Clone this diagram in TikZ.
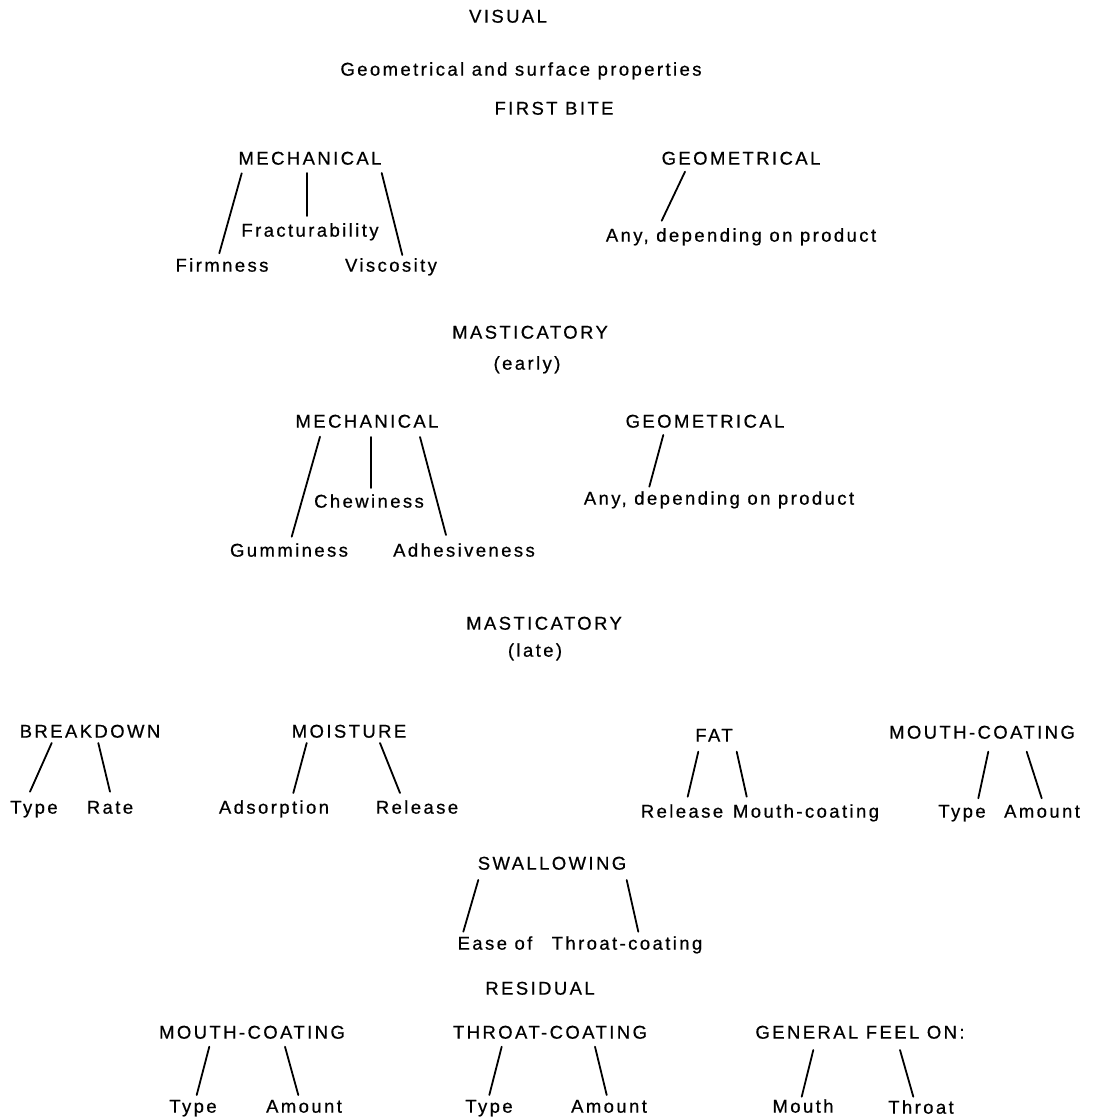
\documentclass[tikz,border=0pt]{standalone}
\usepackage{fontspec}
\usetikzlibrary{calc}
\newfontfamily\labfont{Liberation Sans}[LetterSpace=13,FakeBold=0.6]
\begin{document}
\begin{tikzpicture}[x=1pt,y=-1pt,
  lab/.style={inner sep=0pt, text height=13.3pt, text depth=0pt, font=\labfont\fontsize{18.5}{20}\selectfont},
  conn/.style={line width=1.8pt, line cap=round}]
\useasboundingbox (0,0) rectangle (1092,1118);
% headings
\node[lab] (vis) at (508,16) {VISUAL};
\node[lab] (geo) at (521,69) {Geometrical and surface properties};
\node[lab] (fb) at (554,108) {FIRST BITE};
% first bite
\node[lab] (mA) at (310,158) {MECHANICAL};
\node[lab] (frac) at (310,230) {Fracturability};
\node[lab] (firm) at (222,265) {Firmness};
\node[lab] (visc) at (391,265) {Viscosity};
\node[lab] (gA) at (741,158) {GEOMETRICAL};
\node[lab] (anyA) at (741,235) {Any, depending on product};
% masticatory early
\node[lab] (mastE) at (530,332) {MASTICATORY};
\node[lab] (early) at (527,363) {(early)};
\node[lab] (mB) at (367,421) {MECHANICAL};
\node[lab] (chew) at (369,501) {Chewiness};
\node[lab] (gum) at (289,550) {Gumminess};
\node[lab] (adh) at (464,550) {Adhesiveness};
\node[lab] (gB) at (705,421) {GEOMETRICAL};
\node[lab] (anyB) at (719,498) {Any, depending on product};
% masticatory late
\node[lab] (mastL) at (544,623) {MASTICATORY};
\node[lab] (late) at (535,650) {(late)};
\node[lab] (brk) at (90,731) {BREAKDOWN};
\node[lab] (typeA) at (34,807) {Type};
\node[lab] (rate) at (110,807) {Rate};
\node[lab] (moist) at (349,731) {MOISTURE};
\node[lab] (ads) at (274,807) {Adsorption};
\node[lab] (relA) at (417,807) {Release};
\node[lab] (fat) at (714,735) {FAT};
\node[lab] (relB) at (682,811) {Release};
\node[lab] (mcoat) at (806,811) {Mouth-coating};
\node[lab] (mcA) at (982,732) {MOUTH-COATING};
\node[lab] (typeB) at (962,811) {Type};
\node[lab] (amtA) at (1042,811) {Amount};
% swallowing
\node[lab] (swal) at (552,863) {SWALLOWING};
\node[lab] (ease) at (495,943) {Ease of};
\node[lab] (thr) at (627,943) {Throat-coating};
% residual
\node[lab] (res) at (540,988) {RESIDUAL};
\node[lab] (mcB) at (252,1032) {MOUTH-COATING};
\node[lab] (typeC) at (193,1106) {Type};
\node[lab] (amtB) at (304,1106) {Amount};
\node[lab] (tcB) at (550,1032) {THROAT-COATING};
\node[lab] (typeD) at (489,1106) {Type};
\node[lab] (amtC) at (609,1106) {Amount};
\node[lab] (gen) at (860,1032) {GENERAL FEEL ON:};
\node[lab] (mouth) at (803,1106) {Mouth};
\node[lab] (throat) at (921,1107) {Throat};
% connectors
\draw[conn] ($(mA.center)+(-68.3,15.3)$) -- ($(firm.center)+(-2.7,-11.7)$);
\draw[conn] ($(mA.center)+(-3.3,15)$) -- ($(frac.center)+(-3.3,-14)$);
\draw[conn] ($(mA.center)+(71.7,15)$) -- ($(visc.center)+(11.3,-10)$);
\draw[conn] ($(gA.center)+(-56,13.7)$) -- ($(anyA.center)+(-79.3,-14.3)$);
\draw[conn] ($(mB.center)+(-47,15.7)$) -- ($(gum.center)+(2.7,-13.3)$);
\draw[conn] ($(mB.center)+(3.7,16)$) -- ($(chew.center)+(1.7,-13)$);
\draw[conn] ($(mB.center)+(53,16)$) -- ($(adh.center)+(-18,-15)$);
\draw[conn] ($(gB.center)+(-41.7,14)$) -- ($(anyB.center)+(-69.7,-11.3)$);
\draw[conn] ($(brk.center)+(-38.3,12)$) -- ($(typeA.center)+(-4,-15.3)$);
\draw[conn] ($(brk.center)+(8.3,12)$) -- ($(rate.center)+(0,-15.3)$);
\draw[conn] ($(moist.center)+(-42.3,12)$) -- ($(ads.center)+(19.3,-14)$);
\draw[conn] ($(moist.center)+(31,12)$) -- ($(relA.center)+(-17,-14)$);
\draw[conn] ($(fat.center)+(-15.7,16.7)$) -- ($(relB.center)+(5.7,-14.3)$);
\draw[conn] ($(fat.center)+(22.7,16.7)$) -- ($(mcoat.center)+(-59.3,-14.3)$);
\draw[conn] ($(mcA.center)+(6.3,19.7)$) -- ($(typeB.center)+(16.3,-12.7)$);
\draw[conn] ($(mcA.center)+(44.7,19.7)$) -- ($(amtA.center)+(-0.3,-12.7)$);
\draw[conn] ($(swal.center)+(-73.7,17)$) -- ($(ease.center)+(-31.7,-11.3)$);
\draw[conn] ($(swal.center)+(74.7,17)$) -- ($(thr.center)+(11.3,-11.3)$);
\draw[conn] ($(mcB.center)+(-42.7,14.7)$) -- ($(typeC.center)+(3.7,-11)$);
\draw[conn] ($(mcB.center)+(33,14.7)$) -- ($(amtB.center)+(-5.7,-11)$);
\draw[conn] ($(tcB.center)+(-48.3,14.7)$) -- ($(typeD.center)+(0.3,-11)$);
\draw[conn] ($(tcB.center)+(45,14.7)$) -- ($(amtC.center)+(-2.3,-11)$);
\draw[conn] ($(gen.center)+(-46.7,18)$) -- ($(mouth.center)+(-1.3,-9.3)$);
\draw[conn] ($(gen.center)+(40,18)$) -- ($(throat.center)+(-7.7,-10.3)$);
\end{tikzpicture}
\end{document}
